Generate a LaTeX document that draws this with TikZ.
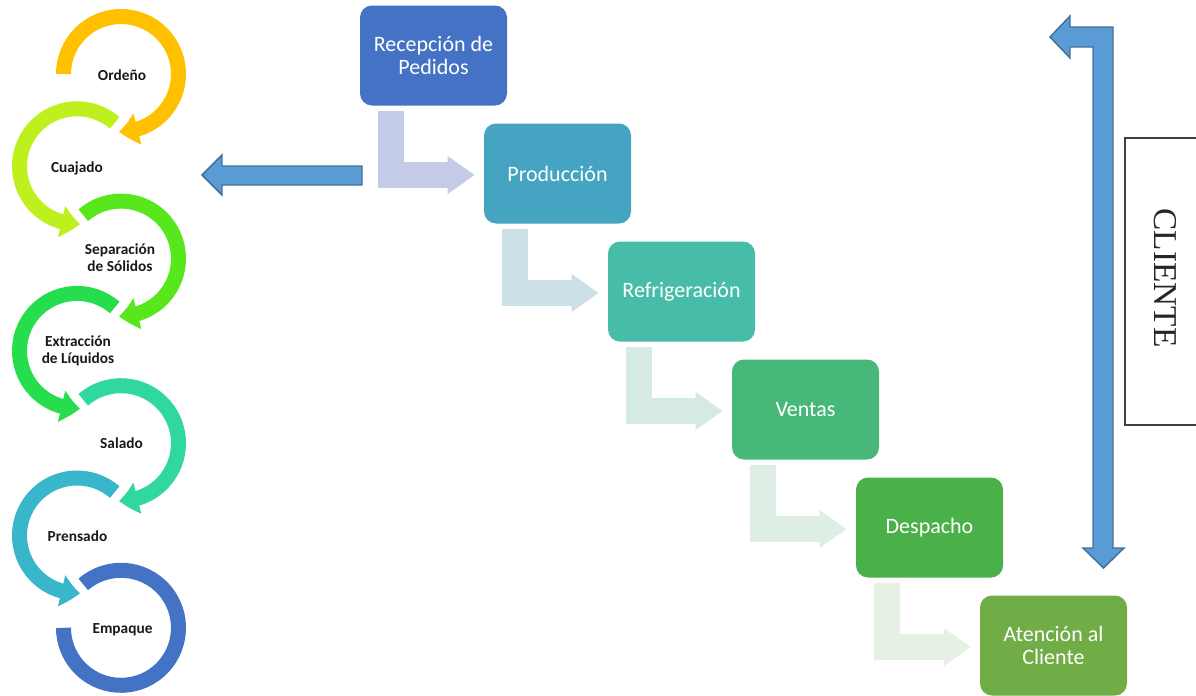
\documentclass[tikz,border=0pt]{standalone}
\usepackage{fontspec}
\setmainfont{Carlito}
\newfontfamily\clientefont{Liberation Serif}
\usetikzlibrary{arrows.meta,bending,calc}
\definecolor{bxA}{HTML}{4472C4}
\definecolor{bxB}{HTML}{44A4C2}
\definecolor{bxC}{HTML}{47BDA9}
\definecolor{bxD}{HTML}{48B878}
\definecolor{bxE}{HTML}{4AB04A}
\definecolor{bxF}{HTML}{70AD47}
\definecolor{arA}{HTML}{C3CBE6}
\definecolor{arB}{HTML}{CCE0E8}
\definecolor{arC}{HTML}{D5EAE5}
\definecolor{arD}{HTML}{DFEEE4}
\definecolor{arE}{HTML}{E7F0E5}
\definecolor{ciA}{HTML}{FFC000}
\definecolor{ciB}{HTML}{BEF01E}
\definecolor{ciC}{HTML}{58E71D}
\definecolor{ciD}{HTML}{26DD4D}
\definecolor{ciE}{HTML}{30D8A0}
\definecolor{ciF}{HTML}{39B6CC}
\definecolor{ciG}{HTML}{4472C4}
\definecolor{blueFill}{HTML}{5B9BD5}
\definecolor{blueLine}{HTML}{41719C}
\definecolor{frameGray}{HTML}{404040}
\begin{document}
\begin{tikzpicture}[x=0.75pt,y=-0.75pt,
  box/.style={rectangle, rounded corners=9pt, minimum width=110.25pt, minimum height=75pt,
    text=white, font=\fontsize{16.5}{17.25}\selectfont, align=center, inner sep=0pt},
  bent/.style={line width=19.5pt, line join=miter, -{Triangle[length=20.25pt,width=27pt]}},
  ring/.style={line width=11.25pt, -{Triangle[length=14pt,width=23pt,bend]}},
  ringend/.style={line width=11.25pt},
  lbl/.style={text=black!90, font=\bfseries\fontsize{11.5}{12.8}\selectfont, align=center, inner sep=0pt},
  bluearrow/.style={fill=blueFill, draw=blueLine, line width=1.1pt, line join=miter}
]
\useasboundingbox (0,0) rectangle (1196,696);

% process boxes
\node[box, fill=bxA] (b1) at (433.5,55.5)  {Recepción de\\Pedidos};
\node[box, fill=bxB] (b2) at (557.5,173.5) {Producción};
\node[box, fill=bxC] (b3) at (681.5,291.5) {Refrigeración};
\node[box, fill=bxD] (b4) at (805.5,409.5) {Ventas};
\node[box, fill=bxE] (b5) at (929.5,527.5) {Despacho};
\node[box, fill=bxF] (b6) at (1053.5,645.5) {Atención al\\Cliente};

% bent connectors
\draw[bent, draw=arA] ($(b1.south west)+(31,5)$) |- ($(b2.west)+(-9,1.5)$);
\draw[bent, draw=arB] ($(b2.south west)+(31,5)$) |- ($(b3.west)+(-9,1.5)$);
\draw[bent, draw=arC] ($(b3.south west)+(31,5)$) |- ($(b4.west)+(-9,1.5)$);
\draw[bent, draw=arD] ($(b4.south west)+(31,5)$) |- ($(b5.west)+(-9,1.5)$);
\draw[bent, draw=arE] ($(b5.south west)+(31,5)$) |- ($(b6.west)+(-9,1.5)$);

% circular process
\coordinate (o1) at (121,74);
\coordinate (o2) at (77,166.3);
\coordinate (o3) at (121,258.6);
\coordinate (o4) at (77,350.9);
\coordinate (o5) at (121,443.2);
\coordinate (o6) at (77,535.5);
\coordinate (o7) at (121,627.8);

\draw[ring, draw=ciA] ($(o1)+(180:57.5)$) arc[start angle=180, end angle=452, radius=57.5];
\draw[ring, draw=ciB] ($(o2)+(311:57.5)$) arc[start angle=311, end angle=87, radius=57.5];
\draw[ring, draw=ciC] ($(o3)+(229:57.5)$) arc[start angle=229, end angle=452, radius=57.5];
\draw[ring, draw=ciD] ($(o4)+(311:57.5)$) arc[start angle=311, end angle=87, radius=57.5];
\draw[ring, draw=ciE] ($(o5)+(229:57.5)$) arc[start angle=229, end angle=452, radius=57.5];
\draw[ring, draw=ciF] ($(o6)+(311:57.5)$) arc[start angle=311, end angle=87, radius=57.5];
\draw[ringend, draw=ciG] ($(o7)+(229:57.5)$) arc[start angle=229, end angle=540, radius=57.5];

\node[lbl] (l1) at (122,75)    {Ordeño};
\node[lbl] (l2) at (77,168)    {Cuajado};
\node[lbl] (l3) at (120,258)   {Separación\\de Sólidos};
\node[lbl] (l4) at (78,351)    {Extracción\\de Líquidos};
\node[lbl] (l5) at (121.5,443) {Salado};
\node[lbl] (l6) at (77.5,536)  {Prensado};
\node[lbl] (l7) at (122.5,630) {Empaque};

% left block arrow
\draw[bluearrow] (202,175) -- (222,155) -- (222,166) -- (362,166) -- (362,185)
  -- (222,185) -- (222,195) -- cycle;

% right bent double arrow
\draw[bluearrow] (1050,37) -- (1070,16) -- (1070,27) -- (1113,27) -- (1113,548)
  -- (1124,548) -- (1103.5,568) -- (1083,548) -- (1093,548) -- (1093,47)
  -- (1070,47) -- (1070,58) -- cycle;

% CLIENTE frame
\draw[draw=frameGray, line width=1.1pt] (1205,138) -- (1125,138) -- (1125,425) -- (1205,425);
\node[rotate=-90, font=\clientefont\fontsize{25}{28}\selectfont, text=black!85] (cliente) at (1165,278) {CLIENTE};
\end{tikzpicture}
\end{document}
